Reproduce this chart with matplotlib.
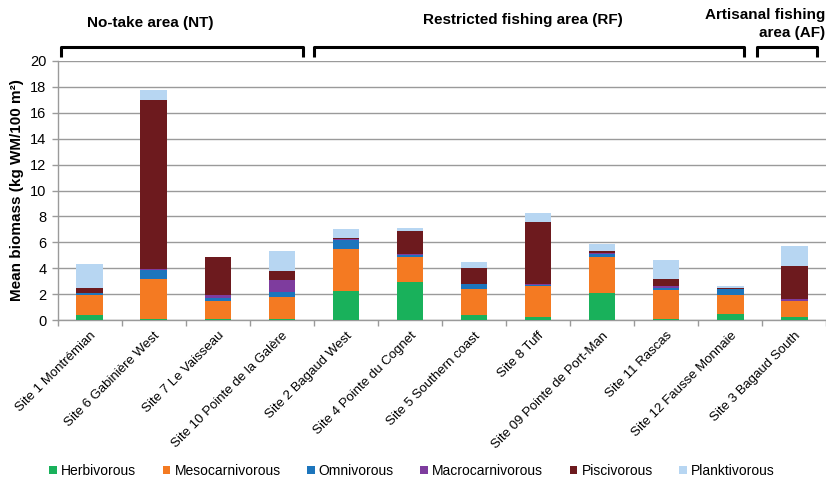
import matplotlib
matplotlib.use("Agg")
import matplotlib.pyplot as plt
import numpy as np
from matplotlib.patches import Patch

sites = ["Site 1 Montrémian", "Site 6 Gabinière West", "Site 7 Le Vaisseau",
         "Site 10 Pointe de la Galère", "Site 2 Bagaud West", "Site 4 Pointe du Cognet",
         "Site 5 Southern coast", "Site 8 Tuff", "Site 09 Pointe de Port-Man",
         "Site 11 Rascas", "Site 12 Fausse Monnaie", "Site 3 Bagaud South"]

groups = ["Herbivorous", "Mesocarnivorous", "Omnivorous", "Macrocarnivorous",
          "Piscivorous", "Planktivorous"]

herbivorous      = [0.40, 0.10, 0.10, 0.05, 2.25, 2.90, 0.40, 0.25, 2.05, 0.05, 0.50, 0.25]
mesocarnivorous  = [1.50, 3.05, 1.35, 1.70, 3.25, 2.00, 2.00, 2.40, 2.85, 2.25, 1.40, 1.20]
omnivorous       = [0.15, 0.70, 0.25, 0.45, 0.70, 0.10, 0.35, 0.05, 0.20, 0.20, 0.50, 0.05]
macrocarnivorous = [0.05, 0.05, 0.20, 0.90, 0.05, 0.10, 0.05, 0.10, 0.05, 0.10, 0.02, 0.15]
piscivorous      = [0.35, 13.10, 2.93, 0.67, 0.10, 1.75, 1.25, 4.80, 0.20, 0.55, 0.03, 2.55]
planktivorous    = [1.90, 0.75, 0.07, 1.58, 0.65, 0.25, 0.45, 0.65, 0.55, 1.45, 0.20, 1.50]

series = [herbivorous, mesocarnivorous, omnivorous, macrocarnivorous, piscivorous, planktivorous]
colors = ["#19B15B", "#F47A22", "#1C75BC", "#7E3C9E", "#6D1A1E", "#B7D6F2"]

W, H = 826, 483
fig = plt.figure(figsize=(W / 100, H / 100), dpi=100)
ax = fig.add_axes([57.5 / W, 1 - 320 / H, 769 / W, 259 / H])

x = np.arange(len(sites))
bottom = np.zeros(len(sites))
for vals, c, name in zip(series, colors, groups):
    ax.bar(x, vals, bottom=bottom, width=0.41, color=c, label=name, zorder=3, linewidth=0)
    bottom += np.array(vals)

ax.set_xlim(-0.5, len(sites) - 0.5)
ax.set_ylim(0, 20)
ax.set_yticks(np.arange(0, 21, 2))
ax.yaxis.grid(True, color="#9a9a9a", linewidth=1.0, zorder=0)
ax.set_axisbelow(True)
for s in ["top", "right"]:
    ax.spines[s].set_visible(False)
for s in ["left", "bottom"]:
    ax.spines[s].set_color("#9a9a9a")
    ax.spines[s].set_linewidth(1.0)

ax.set_xticks(x)
ax.set_xticklabels(sites, rotation=45, ha="right", rotation_mode="anchor",
                   fontsize=9.5, family="Liberation Sans")
ax.tick_params(axis="x", which="major", length=0, pad=7)
ax.set_xticks(np.arange(-0.5, len(sites) + 0.5, 1), minor=True)
ax.tick_params(axis="x", which="minor", length=4, color="#9a9a9a", width=1)
ax.tick_params(axis="y", length=4, color="#9a9a9a", width=1, labelsize=10.5, pad=4)
for lab in ax.get_yticklabels():
    lab.set_family("Liberation Sans")

ax.set_ylabel("Mean biomass (kg WM/100 m²)", fontsize=11, fontweight="bold",
              family="Liberation Sans", labelpad=4)

def px(xp, yp):
    return xp / W, 1 - yp / H

def bracket(x0, x1, ytop=47, ybot=57):
    xs = [x0, x0, x1, x1]
    ys = [ybot, ytop, ytop, ybot]
    fx = [a / W for a in xs]
    fy = [1 - b / H for b in ys]
    fig.add_artist(plt.Line2D(fx, fy, color="black", linewidth=2.2,
                              solid_joinstyle="round", solid_capstyle="butt"))

bracket(61, 303)
bracket(314, 744)
bracket(757, 817)

tfam = ["Liberation Sans Narrow", "Liberation Sans"]
tsize = 11
fig.text(*px(150, 23), "No-take area (NT)", ha="center", va="center",
         fontsize=tsize, fontweight="bold", family=tfam)
fig.text(*px(523, 20), "Restricted fishing area (RF)", ha="center", va="center",
         fontsize=tsize, fontweight="bold", family=tfam)
fig.text(*px(825, 15), "Artisanal fishing", ha="right", va="center",
         fontsize=tsize, fontweight="bold", family=tfam)
fig.text(*px(825, 33), "area (AF)", ha="right", va="center",
         fontsize=tsize, fontweight="bold", family=tfam)

handles = [Patch(facecolor=c, edgecolor="none", label=g) for c, g in zip(colors, groups)]
fig.legend(handles=handles, loc="center", bbox_to_anchor=(412 / W, 1 - 471 / H),
           ncol=6, frameon=False, prop={"family": tfam, "size": 10},
           handlelength=0.55, handleheight=0.55, handletextpad=0.3, columnspacing=1.9)

fig.savefig("out.png", dpi=100)
